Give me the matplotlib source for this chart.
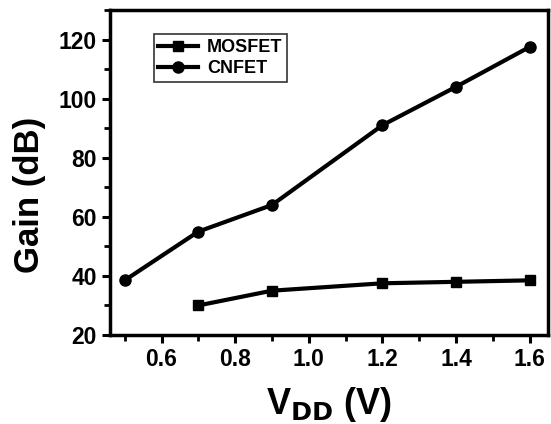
import matplotlib
matplotlib.use('Agg')
import matplotlib.pyplot as plt
from matplotlib.ticker import MultipleLocator

plt.rcParams['font.family'] = ['Liberation Sans', 'DejaVu Sans']
plt.rcParams['font.weight'] = 'bold'

vdd_mos = [0.7, 0.9, 1.2, 1.4, 1.6]
gain_mos = [30, 35, 37.5, 38, 38.5]
vdd_cn = [0.5, 0.7, 0.9, 1.2, 1.4, 1.6]
gain_cn = [38.5, 55, 64, 91, 104, 117.5]

fig = plt.figure(figsize=(5.51, 4.24), dpi=100)
ax = fig.add_axes([0.1996, 0.2099, 0.795, 0.7665])

ax.plot(vdd_mos, gain_mos, 'ks-', lw=3, ms=7, label='MOSFET')
ax.plot(vdd_cn, gain_cn, 'ko-', lw=3, ms=8, label='CNFET')

ax.set_xlim(0.46, 1.65)
ax.set_ylim(20, 130)
ax.xaxis.set_major_locator(MultipleLocator(0.2))
ax.xaxis.set_minor_locator(MultipleLocator(0.1))
ax.yaxis.set_minor_locator(MultipleLocator(10))
ax.set_yticks([20, 40, 60, 80, 100, 120])
ax.tick_params(which='major', direction='out', length=6, width=2.2, labelsize=16.5)
ax.tick_params(which='minor', direction='out', length=4, width=2)
for s in ax.spines.values():
    s.set_linewidth(2.5)

ax.set_ylabel('Gain (dB)', fontsize=25, fontweight='bold')
ax.yaxis.set_label_coords(-0.145, 0.43)
ax.set_xlabel(r'V$_{\mathbf{DD}}$ (V)', fontsize=26, fontweight='bold', labelpad=10)

leg = ax.legend(loc='upper left', bbox_to_anchor=(0.10, 0.925), fontsize=13,
                frameon=True, fancybox=False, edgecolor='black', handlelength=2.2,
                borderpad=0.25, labelspacing=0.25, handletextpad=0.5, borderaxespad=0)
leg.get_frame().set_linewidth(1.2)
for t in leg.get_texts():
    t.set_fontweight('bold')

fig.savefig('out.png', dpi=100)
